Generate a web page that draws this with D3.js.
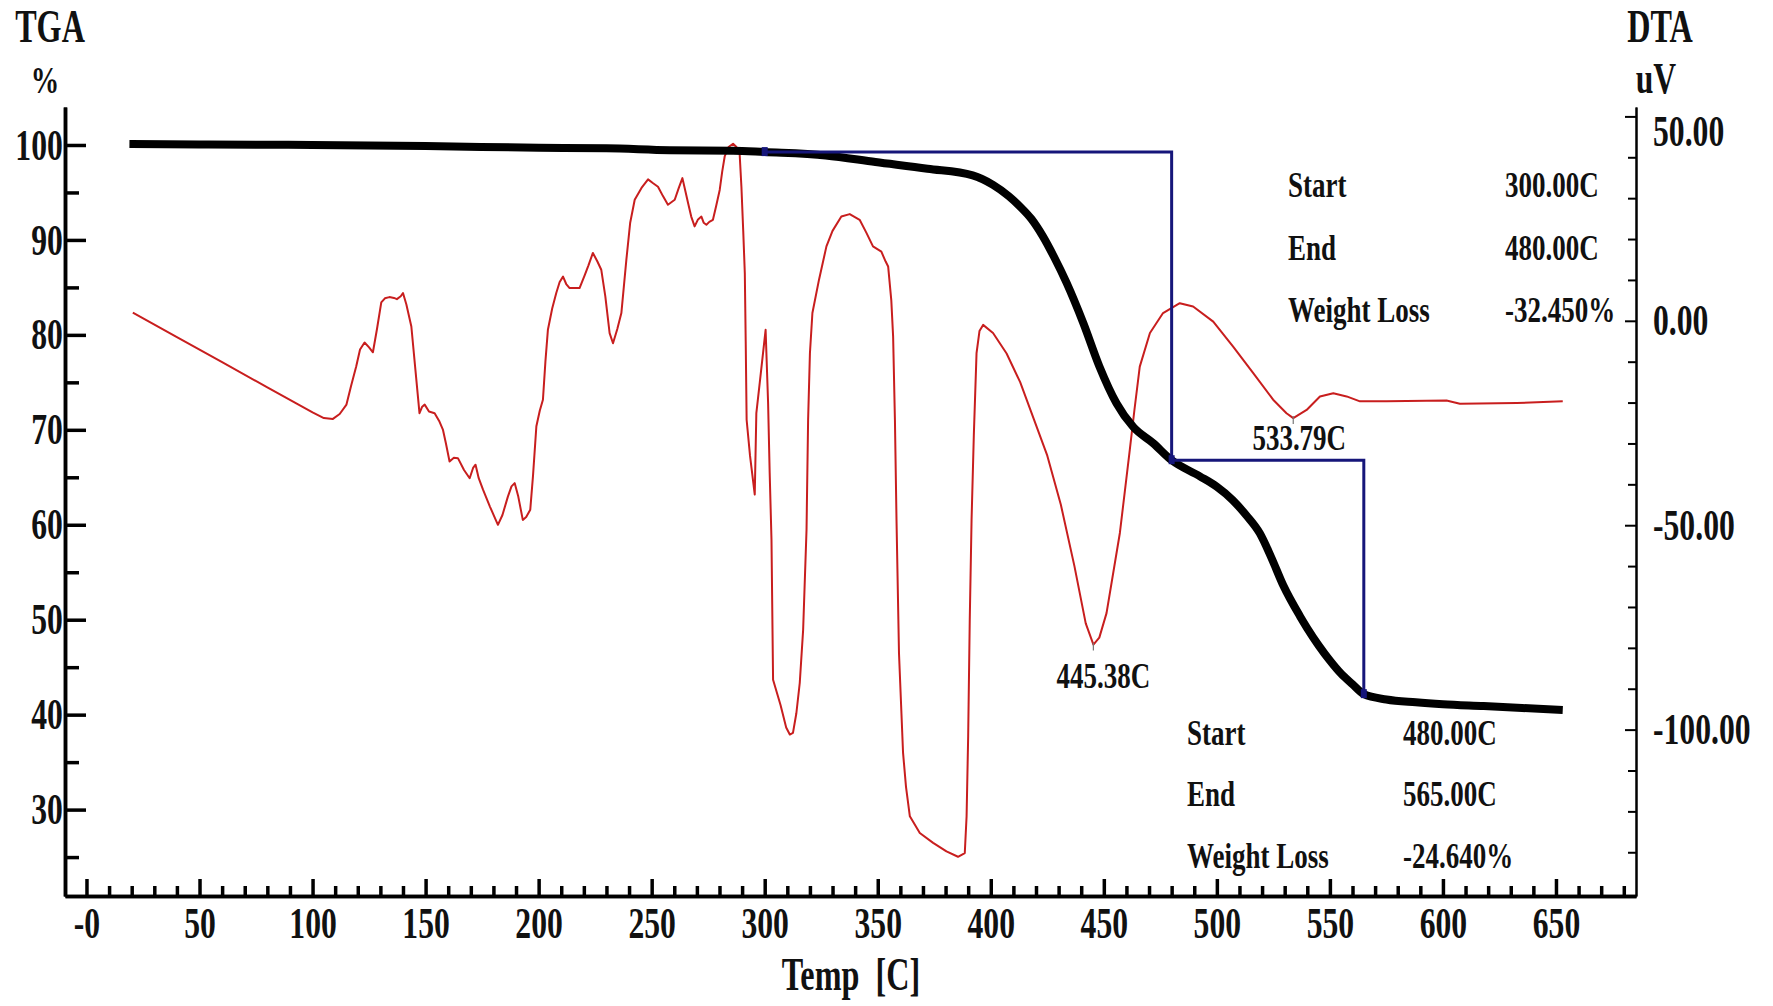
<!DOCTYPE html>
<html>
<head>
<meta charset="utf-8">
<script src="https://cdn.jsdelivr.net/npm/d3@7"></script>
<style>
  html, body { margin: 0; padding: 0; background: #fff; }
  svg { display: block; }
  text { font-family: 'Liberation Serif', 'Times New Roman', serif; white-space: pre; }
</style>
</head>
<body>
<svg id="chart" width="1773" height="1006"></svg>
<script>
// ---------------- DATA ----------------
const tgaTemp = [19, 50, 100, 150, 200, 230, 258, 286, 300, 327, 349, 372, 392, 401, 408, 413, 418, 423, 428, 433.5, 441, 448, 455.6, 463, 471.8, 480, 492.5, 500, 507, 513, 519, 524, 529.4, 536.7, 540, 545, 550, 555, 560, 565, 575, 588, 600, 618, 635, 653];
const tgaMass = [100.1, 100.05, 100, 99.9, 99.7, 99.65, 99.45, 99.4, 99.25, 98.9, 98.2, 97.5, 96.8, 95.8, 94.6, 93.5, 92.2, 90.4, 88.2, 85.5, 81.2, 76.7, 72.8, 70.3, 68.6, 66.8, 65.1, 64.0, 62.6, 61.0, 59.1, 56.6, 53.6, 50.4, 49.1, 47.3, 45.7, 44.3, 43.2, 42.16, 41.6, 41.3, 41.1, 40.9, 40.7, 40.5];

const dtaTemp = [20.5, 40, 60, 80, 100, 105, 109, 112, 115, 117, 119.3, 121, 123, 125, 126.7, 128.5, 130.4, 132, 134, 136, 137.3, 139, 140, 141.5, 143.7, 145.5, 147.3, 148.5, 149.6, 151.5, 154, 156, 157.7, 159, 160.6, 162.5, 164.3, 167, 169.5, 171, 172.1, 173.5, 175.4, 178.5, 182, 184, 186.4, 188, 189.4, 191, 193, 194.5, 196.3, 197.5, 199, 200.5, 201.9, 203, 204.1, 206, 207.8, 209.3, 210.8, 212.2, 213.7, 216, 218.1, 220.4, 222, 224, 226, 227.7, 229.5, 231.4, 232.9, 234.8, 236.6, 238.8, 240.5, 242.5, 245.5, 248.4, 250.5, 252.8, 255, 257.2, 258.7, 260.2, 262, 263.6, 265, 266.1, 267.5, 269, 270.5, 272, 273, 274.2, 275.5, 277.1, 278.5, 280.1, 281.2, 282.3, 284, 286, 287.5, 288.9, 289.7, 290.5, 291.2, 291.6, 292, 293.5, 295.6, 296.3, 297.8, 300.4, 301.5, 302.2, 303, 303.7, 307, 309.5, 311.1, 312.5, 314, 315.5, 317, 318.5, 319.2, 320, 321.1, 324, 327.3, 330, 333.9, 337.6, 342, 345, 347.9, 351.6, 353.5, 354.6, 356, 356.8, 357.6, 358.3, 359.4, 361.2, 362.5, 364.2, 368.6, 374.5, 380.4, 385.5, 388.5, 389.3, 390, 390.7, 391.5, 392.5, 393.7, 395, 396.6, 401, 407, 413, 419, 425, 431, 437, 442, 445.4, 448, 451.2, 457.1, 461.5, 463.5, 465.9, 470.4, 476.2, 483.6, 489.5, 498.4, 507.2, 516.1, 524.9, 530.8, 533.8, 539.7, 545.6, 551.5, 557.4, 563.3, 575.1, 601.6, 607.5, 632.6, 653];
const dtaSignal = [2.0, -4.0, -10.1, -16.3, -22.4, -23.8, -24.0, -22.8, -20.5, -16, -11.2, -7, -5.3, -6.5, -7.7, -2, 4.5, 5.5, 5.8, 5.6, 5.3, 6.0, 6.8, 4, -1.4, -12, -22.6, -21, -20.5, -22.2, -22.6, -24.5, -26.7, -30, -34.4, -33.5, -33.6, -36.5, -38.5, -36, -35.2, -38.5, -41.3, -45.5, -49.9, -47.5, -43, -40.5, -39.7, -43, -48.7, -48, -46.2, -38, -25.8, -22, -19.3, -10, -2.2, 3, 6.8, 9.5, 10.8, 9, 8, 8, 8, 11.2, 13.5, 16.6, 14.5, 12.5, 6, -3, -5.5, -2, 1.9, 14.9, 24, 29.6, 32.5, 34.6, 33.7, 32.8, 30.5, 28.4, 29, 29.6, 32.5, 34.9, 31.5, 28.8, 25.5, 23.1, 24.8, 25.5, 24, 23.5, 24.2, 24.7, 28, 32, 36.5, 40.2, 42.5, 43.3, 42.5, 41, 32.8, 22, 11.7, -5, -24.2, -33, -42.5, -22.6, -15.2, -2.2, -20.1, -37.2, -53.5, -87.8, -94, -99.5, -101.2, -100.8, -96, -88.6, -75.6, -51.1, -24.2, -8, 1.9, 10, 18.2, 22, 25.5, 26.1, 24.7, 21.5, 18.2, 16.9, 14.5, 13.3, 5, -3.8, -24.2, -48.7, -81.3, -105.7, -114, -121.2, -125.3, -127.7, -129.8, -131.1, -130.2, -121.2, -101.6, -73.1, -48.7, -28, -7.9, -2.5, -1, -3, -8, -15, -24, -33, -45, -60, -74, -79.2, -77.5, -71.5, -51.9, -31.5, -22, -11.2, -3, 1.9, 4.3, 3.5, -0.2, -6.3, -12.8, -19.3, -22.6, -23.8, -21.8, -18.5, -17.7, -18.5, -19.7, -19.7, -19.5, -20.3, -20.1, -19.7];

// weight-loss step (analysis) lines
const stepTemp = [300, 480, 480, 565, 565];
const stepMass = [99.25, 99.25, 66.8, 66.8, 42.16];

// axis ticks and labels
const xMajorTicks = [0, 50, 100, 150, 200, 250, 300, 350, 400, 450, 500, 550, 600, 650];
const xTickLabels = ["-0", "50", "100", "150", "200", "250", "300", "350", "400", "450", "500", "550", "600", "650"];
const xMinorTicks = [10, 20, 30, 40, 60, 70, 80, 90, 110, 120, 130, 140, 160, 170, 180, 190, 210, 220, 230, 240, 260, 270, 280, 290, 310, 320, 330, 340, 360, 370, 380, 390, 410, 420, 430, 440, 460, 470, 480, 490, 510, 520, 530, 540, 560, 570, 580, 590, 610, 620, 630, 640, 660, 670, 680];
const leftMajorTicks = [100, 90, 80, 70, 60, 50, 40, 30];
const leftMinorTicks = [95, 85, 75, 65, 55, 45, 35, 25];
const rightMajorTicks = [50, 0, -50, -100];
const rightTickLabels = ["50.00", "0.00", "-50.00", "-100.00"];
const rightMinorTicks = [40, 30, 20, 10, -10, -20, -30, -40, -60, -70, -80, -90, -110, -120, -130];

// annotations
const block1Labels = ["Start", "End", "Weight Loss"];
const block1Values = ["300.00C", "480.00C", "-32.450%"];
const block2Labels = ["Start", "End", "Weight Loss"];
const block2Values = ["480.00C", "565.00C", "-24.640%"];
const peakTemps = [445.38, 533.79];
const peakSignals = [-79.2, -23.8];
const peakLabels = ["445.38C", "533.79C"];

// ---------------- CHART ----------------
const svg = d3.select("#chart");
const FONT = "'Liberation Serif', 'Times New Roman', serif";

const x = d3.scaleLinear().domain([-9.5, 685.4]).range([65, 1636]);
const yL = d3.scaleLinear().domain([20.9, 104]).range([896, 107]);
const yR = d3.scaleLinear().domain([-140.7, 52.3]).range([896, 107]);

function txt(px, py, s, size, anchor, sx, weight) {
  svg.append("text")
    .attr("transform", `translate(${px},${py}) scale(${sx},1)`)
    .attr("text-anchor", anchor)
    .attr("font-size", size)
    .attr("font-weight", weight || "bold")
    .attr("font-family", FONT)
    .attr("fill", "#111")
    .text(s);
}

function styleAxis(g, width) {
  g.select(".domain").attr("stroke", "#000").attr("stroke-width", width);
  g.selectAll(".tick line").attr("stroke", "#000").attr("stroke-width", width);
}

// Left (TGA) axis
const gLmin = svg.append("g").attr("transform", "translate(65,0)")
  .call(d3.axisLeft(yL).tickValues(leftMinorTicks).tickSize(-14).tickSizeOuter(0).tickFormat(""));
styleAxis(gLmin, 3.5);
const gL = svg.append("g").attr("transform", "translate(65,0)")
  .call(d3.axisLeft(yL).tickValues(leftMajorTicks).tickSize(-21).tickSizeOuter(0).tickPadding(3).tickFormat(d => String(d)));
styleAxis(gL, 3.5);
gL.selectAll(".tick text")
  .attr("font-size", 44).attr("font-weight", "bold").attr("font-family", FONT).attr("fill", "#111")
  .attr("transform", "scale(0.72,1)");

// Right (DTA) axis
const gRmin = svg.append("g").attr("transform", "translate(1636,0)")
  .call(d3.axisRight(yR).tickValues(rightMinorTicks).tickSize(-8).tickSizeOuter(0).tickFormat(""));
styleAxis(gRmin, 2);
const gR = svg.append("g").attr("transform", "translate(1636,0)")
  .call(d3.axisRight(yR).tickValues(rightMajorTicks).tickSize(-11).tickSizeOuter(0).tickPadding(23.6)
    .tickFormat((d, i) => rightTickLabels[i]));
styleAxis(gR, 2);
gR.selectAll(".tick text")
  .attr("font-size", 44).attr("font-weight", "bold").attr("font-family", FONT).attr("fill", "#111")
  .attr("transform", "scale(0.72,1)")
  .attr("dy", d => d === 50 ? "0.66em" : "0.32em");

// Bottom (Temp) axis
const gBmin = svg.append("g").attr("transform", "translate(0,896)")
  .call(d3.axisBottom(x).tickValues(xMinorTicks).tickSize(-10).tickSizeOuter(0).tickFormat(""));
styleAxis(gBmin, 3.5);
const gB = svg.append("g").attr("transform", "translate(0,896)")
  .call(d3.axisBottom(x).tickValues(xMajorTicks).tickSize(-17).tickSizeOuter(0).tickPadding(11)
    .tickFormat((d, i) => xTickLabels[i]));
styleAxis(gB, 3.5);
gB.selectAll(".tick text")
  .attr("font-size", 44).attr("font-weight", "bold").attr("font-family", FONT).attr("fill", "#111")
  .attr("transform", "scale(0.72,1)");

// Axis titles
txt(50, 42, "TGA", 46, "middle", 0.7);
txt(45, 93, "%", 38, "middle", 0.75);
txt(1660, 42, "DTA", 46, "middle", 0.7);
txt(1656, 93, "uV", 44, "middle", 0.72);
txt(851, 990, "Temp  [C]", 46, "middle", 0.7);

// DTA curve (red)
const dtaData = dtaTemp.map((t, i) => [t, dtaSignal[i]]);
svg.append("path")
  .datum(dtaData)
  .attr("fill", "none")
  .attr("stroke", "#c81e1e")
  .attr("stroke-width", 2)
  .attr("stroke-linejoin", "round")
  .attr("d", d3.line().x(d => x(d[0])).y(d => yR(d[1])));

// peak markers
peakTemps.forEach((t, i) => {
  svg.append("line")
    .attr("x1", x(t)).attr("x2", x(t))
    .attr("y1", yR(peakSignals[i]) - 2).attr("y2", yR(peakSignals[i]) + 6)
    .attr("stroke", "#777").attr("stroke-width", 1.2);
});

// TGA curve (black, thick)
const tgaData = tgaTemp.map((t, i) => [t, tgaMass[i]]);
svg.append("path")
  .datum(tgaData)
  .attr("fill", "none")
  .attr("stroke", "#000")
  .attr("stroke-width", 8)
  .attr("stroke-linejoin", "round")
  .attr("d", d3.line().curve(d3.curveMonotoneX).x(d => x(d[0])).y(d => yL(d[1])));

// Step analysis lines (navy)
const stepData = stepTemp.map((t, i) => [t, stepMass[i]]);
svg.append("path")
  .datum(stepData)
  .attr("fill", "none")
  .attr("stroke", "#16167a")
  .attr("stroke-width", 3)
  .attr("d", d3.line().x(d => x(d[0])).y(d => yL(d[1])));
[[stepTemp[0], stepMass[0]], [stepTemp[2], stepMass[2]], [stepTemp[4], stepMass[4]]].forEach(p => {
  svg.append("rect")
    .attr("x", x(p[0]) - 3).attr("y", yL(p[1]) - 5)
    .attr("width", 6).attr("height", 9)
    .attr("fill", "#16167a");
});

// Annotation blocks
const b1y = [197, 260, 322];
block1Labels.forEach((s, i) => txt(1288, b1y[i], s, 36, "start", 0.75));
block1Values.forEach((s, i) => txt(1505, b1y[i], s, 36, "start", 0.75));
const b2y = [745, 806, 868];
block2Labels.forEach((s, i) => txt(1187, b2y[i], s, 36, "start", 0.75));
block2Values.forEach((s, i) => txt(1403, b2y[i], s, 36, "start", 0.75));

// Peak labels
txt(x(peakTemps[0]) + 10, 688, peakLabels[0], 36, "middle", 0.75);
txt(x(peakTemps[1]) + 6, 450, peakLabels[1], 36, "middle", 0.75);
</script>
</body>
</html>
